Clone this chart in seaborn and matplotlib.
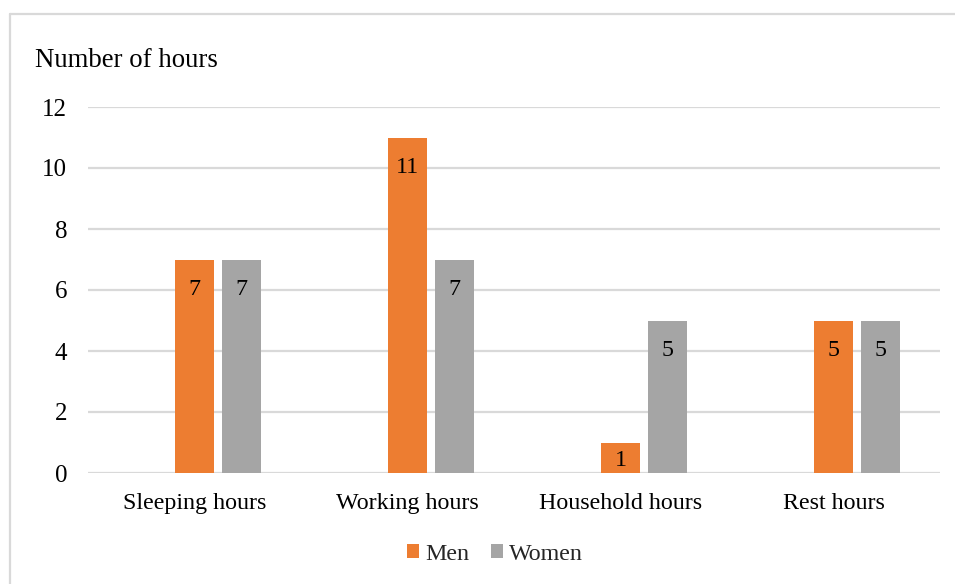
import matplotlib
matplotlib.use("Agg")
import matplotlib.pyplot as plt
import seaborn as sns
import pandas as pd
from matplotlib.lines import Line2D
from matplotlib.patches import Patch

# Daily hours by activity
categories = ["Sleeping hours", "Working hours", "Household hours", "Rest hours"]
men = [7, 11, 1, 5]
women = [7, 7, 5, 5]
# empty leading series slot in each group (keeps the bars right of centre)
spacer = [0, 0, 0, 0]

ORANGE = "#ED7D31"
GRAY = "#A5A5A5"
LINE = "#D9D9D9"
FS = 17.3

sns.set_theme(style="white")
plt.rcParams["font.family"] = ["Liberation Serif", "DejaVu Serif"]

df = pd.DataFrame({
    "category": categories * 3,
    "series": ["_spacer"] * 4 + ["Men"] * 4 + ["Women"] * 4,
    "hours": spacer + men + women,
})

fig = plt.figure(figsize=(9.55, 5.84), dpi=100)
ax = fig.add_axes([88 / 955, 1 - 473 / 584, 852 / 955, 366 / 584])

sns.barplot(
    data=df, x="category", y="hours", hue="series",
    hue_order=["_spacer", "Men", "Women"],
    palette=["#FFFFFF", ORANGE, GRAY],
    order=categories, width=0.662, gap=0.19, dodge=True,
    errorbar=None, legend=False, saturation=1, linewidth=0, ax=ax,
)

# value labels inside the top of each bar
for cont in ax.containers[1:]:
    for bar in cont:
        v = bar.get_height()
        xc = bar.get_x() + bar.get_width() / 2
        y = v - 1.15 if v - 1.15 >= 0.5 else v / 2 - 0.26
        ax.text(xc, y, f"{v:g}", ha="center", va="baseline",
                fontsize=FS, color="black", zorder=5)

ax.set_xlim(-0.5, 3.5)
ax.set_ylim(0, 12)
ax.set_yticks(range(0, 13, 2))
ax.set_axisbelow(True)
ax.yaxis.grid(True, color=LINE, linewidth=1.6)
ax.xaxis.grid(False)
for s in ax.spines.values():
    s.set_visible(False)
ax.set_xlabel("")
ax.set_ylabel("")
ax.tick_params(axis="x", length=0, pad=14.5, labelsize=FS, colors="black")
ax.tick_params(axis="y", length=0, pad=15, labelsize=FS + 0.7, colors="black")

fig.text(35 / 955, 1 - 67 / 584, "Number of hours", fontsize=19.3,
         ha="left", va="baseline", color="black")

handles = [Patch(facecolor=ORANGE, edgecolor="none", label="Men"),
           Patch(facecolor=GRAY, edgecolor="none", label="Women")]
fig.legend(handles=handles, loc="center", bbox_to_anchor=(495 / 955, 1 - 554 / 584),
           ncol=2, frameon=False, fontsize=FS, handlelength=0.52, handleheight=0.52,
           handletextpad=0.25, columnspacing=0.9, borderpad=0)

# chart border
fig.add_artist(Line2D([10 / 955, 10 / 955], [0, 1 - 14 / 584], color=LINE, lw=1.6))
fig.add_artist(Line2D([10 / 955, 1], [1 - 14 / 584, 1 - 14 / 584], color=LINE, lw=1.6))

fig.savefig("out.png", dpi=100)
